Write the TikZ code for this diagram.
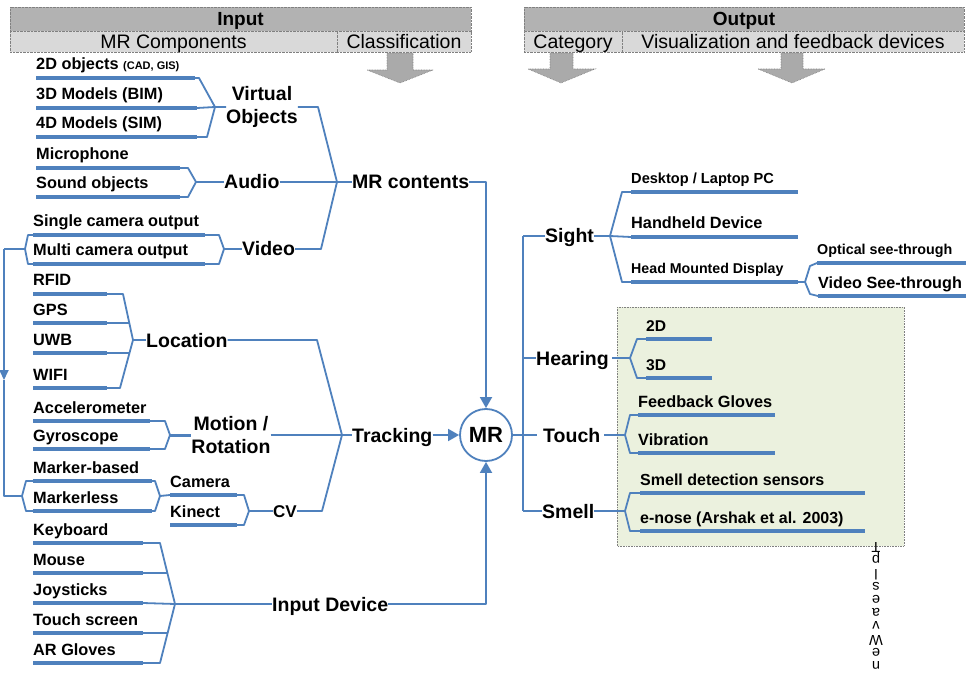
\documentclass[tikz,border=0pt]{standalone}
\usepackage{fontspec}
\setmainfont{Liberation Sans}
\usepackage{graphicx}
\usetikzlibrary{arrows.meta,calc}
\definecolor{mrblue}{RGB}{79,129,189}
\definecolor{hdrdark}{RGB}{178,178,178}
\definecolor{hdrlight}{RGB}{217,217,217}
\definecolor{boxgreen}{RGB}{235,241,222}
\definecolor{arrgray}{RGB}{170,170,170}
\newcommand\fsz[1]{\fontsize{#1}{#1}\selectfont}
\newcommand\mkleaf[6]{%
 \coordinate (#1a) at (#2,#4);
 \coordinate (#1b) at (#3,#4);
 \draw[leafbar] (#1a) -- (#1b);
 \node[leaftext,font=\bfseries\fsz{#5}] (#1) at (#2,#4-8) {#6};}
\tikzset{
 conn/.style={draw=mrblue, line width=1.8pt, line join=round},
 leafbar/.style={draw=mrblue, line width=4pt},
 leaftext/.style={inner sep=0pt, anchor=base west},
 catlabel/.style={font=\bfseries\fsz{19.5}, inner sep=0pt, text height=14pt, text depth=0pt, anchor=west},
 catml/.style={font=\bfseries\fontsize{19.5}{23.5}\selectfont, inner sep=0pt, align=center},
 hdrtop/.style={draw=gray, densely dotted, fill=hdrdark, inner sep=0pt, text height=13.6pt, text depth=0pt, font=\bfseries\fsz{19}},
 hdrsub/.style={draw=gray, densely dotted, fill=hdrlight, inner sep=0pt, text height=13.6pt, text depth=0pt, font=\fsz{19.5}},
 bigarrow/.style={fill=arrgray, draw=gray, densely dotted, line width=0.6pt},
 arrowend/.style={-{Triangle[length=11pt,width=12pt]}},
 smallarrowend/.style={-{Triangle[length=10pt,width=9pt]}},
}
\begin{document}
\begin{tikzpicture}[x=1pt,y=-1pt]
\useasboundingbox (0,0) rectangle (966,676);
\fill[white] (0,0) rectangle (966,676);

% ---------- headers ----------
\node[hdrtop, minimum width=461pt, minimum height=24pt] (inH) at (240.5,19) {Input};
\node[hdrsub, minimum width=327pt, minimum height=21pt] (inComp) at (173.5,41.5) {MR Components};
\node[hdrsub, minimum width=134pt, minimum height=21pt] (inClass) at (404,41.5) {Classification};
\node[hdrtop, minimum width=440pt, minimum height=24pt] (outH) at (744,19) {Output};
\node[hdrsub, minimum width=98pt, minimum height=21pt] (outCat) at (573,41.5) {Category};
\node[hdrsub, minimum width=342pt, minimum height=21pt] (outVis) at (793,41.5) {Visualization and feedback devices};

\draw[bigarrow] (387,53) -- (413,53) -- (413,70) -- (433,70) -- (400,83) -- (367,70) -- (387,70) -- cycle;
\draw[bigarrow] (550,53) -- (573,53) -- (573,69) -- (595,69) -- (561,83) -- (528,69) -- (550,69) -- cycle;
\draw[bigarrow] (781,53) -- (803,53) -- (803,69) -- (825,69) -- (792,83) -- (758,69) -- (781,69) -- cycle;

% ---------- green box ----------
\draw[fill=boxgreen, draw=gray, densely dotted, line width=0.6pt] (617,307) rectangle (904,546);

% ---------- key coordinates ----------
\coordinate (mrcApex) at (337,182);
\coordinate (trApex) at (342,435);
\node[circle, draw=mrblue, line width=1.8pt, minimum size=52pt, inner sep=0pt, font=\bfseries\fsz{22}] (MR) at (486,435) {MR};

% ---------- Virtual objects ----------
\mkleaf{oA}{36}{195}{78}{16.3}{2D objects {\fsz{11}(CAD, GIS)}}
\mkleaf{oB}{36}{197}{108}{16.3}{3D Models (BIM)}
\mkleaf{oC}{36}{197}{137}{16.3}{4D Models (SIM)}
\coordinate (voApex) at (215,107);
\node[catml] (VO) at (262,107) {Virtual\\Objects};
\draw[conn] (oAb) -- (199,78) -- (voApex) -- (207,137) -- (oCb);
\draw[conn] (oBb) -- (voApex) -- (VO.west);
\draw[conn] (VO.east) -- (318,107) -- (mrcApex);

% ---------- Audio ----------
\mkleaf{mic}{36}{180}{168}{16.3}{Microphone}
\mkleaf{snd}{36}{180}{197}{16.3}{Sound objects}
\coordinate (auApex) at (196,182);
\node[catlabel] (Audio) at (224,182) {Audio};
\draw[conn] (micb) -- (188,168) -- (auApex) -- (188,197) -- (sndb);
\draw[conn] (auApex) -- (Audio.west);
\draw[conn] (Audio.east) -- (mrcApex);

% ---------- Video ----------
\mkleaf{scam}{33}{205}{235}{16.3}{Single camera output}
\mkleaf{mcam}{33}{205}{264}{16.3}{Multi camera output}
\coordinate (viApex) at (224,249);
\coordinate (viLeft) at (25,249);
\node[catlabel] (Video) at (242,249) {Video};
\draw[conn] (scamb) -- (219,235) -- (viApex) -- (219,264) -- (mcamb);
\draw[conn] (viApex) -- (Video.west);
\draw[conn] (scama) -- (28,235) -- (viLeft) -- (28,264) -- (mcama);
\draw[conn] (Video.east) -- (321,249) -- (mrcApex);

% ---------- MR contents ----------
\node[catlabel] (MRC) at (352,182) {MR contents};
\draw[conn] (mrcApex) -- (MRC.west);
\draw[conn,arrowend] (MRC.east) -- (MRC.east -| MR.north) -- (MR.north);

% ---------- Location ----------
\mkleaf{rfid}{33}{107}{294}{16.3}{RFID}
\mkleaf{gps}{33}{107}{323}{16.3}{GPS}
\mkleaf{uwb}{33}{107}{353}{16.3}{UWB}
\mkleaf{wifi}{33}{107}{388}{16.3}{WIFI}
\coordinate (loApex) at (133,340);
\draw[conn] (rfidb) -- (123,294) -- (loApex) -- (120,388) -- (wifib);
\draw[conn] (gpsb) -- (129.3,323);
\draw[conn] (uwbb) -- (129.5,353);
\node[catlabel] (Loc) at (146,340) {Location};
\draw[conn] (loApex) -- (Loc.west);
\draw[conn] (Loc.east) -- (317,340) -- (trApex);

% ---------- Motion ----------
\mkleaf{acc}{33}{150}{421}{16.3}{Accelerometer}
\mkleaf{gyr}{33}{150}{449}{16.3}{Gyroscope}
\coordinate (moApex) at (170,435);
\draw[conn] (accb) -- (165,421) -- (moApex) -- (165,449) -- (gyrb);
\node[catml] (Mot) at (231,435) {Motion /\\Rotation};
\draw[conn, line width=3pt] (moApex) -- (Mot.west);
\draw[conn] (Mot.east) -- (trApex);

% ---------- Marker / CV ----------
\mkleaf{mkb}{33}{152}{481}{16.3}{Marker-based}
\mkleaf{mkl}{33}{152}{511}{16.3}{Markerless}
\coordinate (mkApex) at (160,496);
\coordinate (mkLeft) at (22,496);
\draw[conn] (mkbb) -- (155,481) -- (mkApex) -- (155,511) -- (mklb);
\draw[conn] (mkba) -- (26,481) -- (mkLeft) -- (26,511) -- (mkla);
\mkleaf{cam}{170}{237}{495}{16.3}{Camera}
\mkleaf{kin}{170}{237}{525}{16.3}{Kinect}
\draw[conn] (mkApex) -- (cama);
\coordinate (cvApex) at (249,511);
\draw[conn] (camb) -- (244,495) -- (cvApex) -- (244,525) -- (kinb);
\node[catlabel, font=\bfseries\fsz{17}, text height=12.2pt] (CV) at (273,511) {CV};
\draw[conn] (cvApex) -- (CV.west);
\draw[conn] (CV.east) -- (322,511) -- (trApex);

% ---------- left loop ----------
\coordinate (vTop) at (4,249);
\coordinate (vMid) at (4,380);
\coordinate (vBot) at (4,496);
\draw[conn] (viLeft) -- (vTop);
\draw[conn,smallarrowend] (vTop) -- (vMid);
\draw[conn] (vMid) -- (vBot) -- (mkLeft);

% ---------- Tracking ----------
\node[catlabel] (Tr) at (352,435) {Tracking};
\draw[conn] (trApex) -- (Tr.west);
\draw[conn,arrowend] (Tr.east) -- (MR.west);

% ---------- Input device ----------
\mkleaf{kbd}{33}{143}{543}{16.3}{Keyboard}
\mkleaf{mouse}{33}{143}{573}{16.3}{Mouse}
\mkleaf{joy}{33}{143}{603}{16.3}{Joysticks}
\mkleaf{tscr}{33}{143}{633}{16.3}{Touch screen}
\mkleaf{arg}{33}{143}{663}{16.3}{AR Gloves}
\coordinate (idApex) at (175,604);
\draw[conn] (kbdb) -- (160,543) -- (idApex) -- (160,663) -- (argb);
\draw[conn] (mouseb) -- (167.4,573);
\draw[conn] (joyb) -- (idApex);
\draw[conn] (tscrb) -- (167.6,633);
\node[catlabel] (ID) at (272,604) {Input Device};
\draw[conn] (idApex) -- (ID.west);
\draw[conn,arrowend] (ID.east) -- (ID.east -| MR.south) -- (MR.south);

% ---------- right trunk ----------
\coordinate (rTop) at (523,236);
\coordinate (rHear) at (523,358);
\coordinate (rBot) at (523,511);
\draw[conn] (rTop) -- (rBot);
\node[catlabel] (Sight) at (545,236) {Sight};
\draw[conn] (rTop) -- (Sight.west);
\node[catlabel] (Hear) at (536,358) {Hearing};
\draw[conn] (rHear) -- (Hear.west);
\node[catlabel] (Touch) at (543,435) {Touch};
\draw[conn] (MR.east) -- ($(Touch.west)+(-6,0)$);
\node[catlabel] (Smell) at (542,511) {Smell};
\draw[conn] (rBot) -- (Smell.west);

% ---------- Sight ----------
\coordinate (siApex) at (610,236);
\draw[conn] (Sight.east) -- (siApex);
\mkleaf{desk}{631}{798}{192}{14.6}{Desktop / Laptop PC}
\mkleaf{hand}{631}{798}{237}{16.3}{Handheld Device}
\mkleaf{hmd}{631}{798}{282}{14.2}{Head Mounted Display}
\draw[conn] (deska) -- (622,192) -- (siApex) -- (622,282) -- (hmda);
\draw[conn] (siApex) -- (handa);
\coordinate (hmdApex) at (805,282);
\mkleaf{opt}{817}{975}{263}{14.3}{Optical see-through}
\mkleaf{vst}{818}{975}{296}{16.2}{Video See-through}
\draw[conn] (hmdb) -- (hmdApex) -- (810,266) -- (opta);
\draw[conn] (hmdApex) -- (810,294) -- (vsta);

% ---------- Hearing ----------
\coordinate (heApex) at (630,358);
\draw[conn] ($(Hear.east)+(3,0)$) -- (heApex);
\mkleaf{hA}{646}{712}{339}{15.6}{2D}
\mkleaf{hB}{646}{712}{378}{15.6}{3D}
\draw[conn] (hAa) -- (637,339) -- (heApex) -- (637,378) -- (hBa);

% ---------- Touch ----------
\coordinate (toApex) at (625,435);
\draw[conn] ($(Touch.east)+(4,0)$) -- (toApex);
\mkleaf{fbg}{638}{775}{415}{16.3}{Feedback Gloves}
\mkleaf{vib}{638}{775}{453}{16.3}{Vibration}
\draw[conn] (fbga) -- (630,415) -- (toApex) -- (630,453) -- (viba);

% ---------- Smell ----------
\coordinate (smApex) at (625,511);
\draw[conn] (Smell.east) -- (smApex);
\mkleaf{sds}{640}{865}{493}{16}{Smell detection sensors}
\mkleaf{enose}{640}{865}{531}{16}{e-nose (Arshak et al. 2003)}
\draw[conn] (sdsa) -- (630,493) -- (smApex) -- (630,531) -- (enosea);

% ---------- vertical garbled text ----------
\node[inner sep=0pt, align=center, font=\fontsize{14.5}{13.2}\selectfont] (vtext) at (876,606)
 {\rotatebox{180}{T}\\\rotatebox{180}{p}\\\rotatebox{180}{l}\\\rotatebox{180}{s}\\\rotatebox{180}{e}\\\rotatebox{180}{a}\\\rotatebox{180}{v}\\\rotatebox{180}{W}\\\rotatebox{180}{e}\\\rotatebox{180}{n}};
\end{tikzpicture}
\end{document}
